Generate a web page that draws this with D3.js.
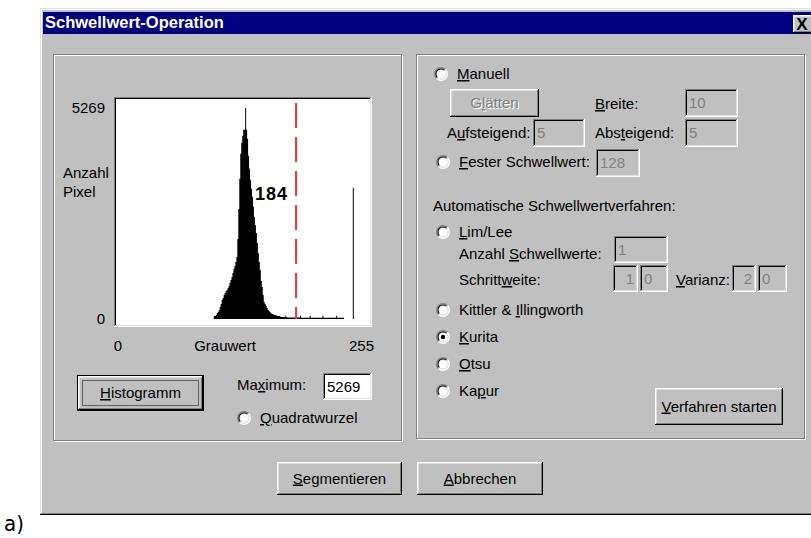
<!DOCTYPE html>
<html>
<head>
<meta charset="utf-8">
<script src="https://cdn.jsdelivr.net/npm/d3@7/dist/d3.min.js"></script>
<style>
  body { margin: 0; background: #fff; }
  svg { display: block; }
</style>
</head>
<body>
<svg id="c" width="811" height="538"></svg>
<script>
// histogram of grey values, first non-empty bin is 100
const histStart = 100;
const histCounts = [
  75, 75, 100, 150, 175, 225, 300, 375, 475, 525,            // 100-109
  600, 650, 700, 725, 775, 825, 900, 975, 1050, 1150,       // 110-119
  1250, 1325, 1425, 1550, 2000, 2750, 3500, 4125, 4400, 4575, // 120-129
  4725, 4725, 5269, 4725, 4500, 4075, 3750, 3475, 3250, 3050, // 130-139
  2800, 2550, 2350, 2150, 1900, 1650, 1425, 1225, 950, 800,  // 140-149
  600, 425, 375, 325, 275, 225, 200, 175, 150, 125,         // 150-159
  125, 100, 100, 100, 75, 75, 75, 75, 50, 50,               // 160-169
  50, 50, 50, 80, 50, 40, 40, 40, 40, 40,                   // 170-179
  40, 40, 40, 40, 40, 40, 40, 40, 80, 30,                   // 180-189
  30, 30, 30, 30, 30, 30, 30, 30, 80, 30,                   // 190-199
  30, 30, 30, 30, 30, 30, 30, 30, 30, 30,                   // 200-209
  30, 80, 30, 30, 30, 30, 30, 30, 30, 30,                   // 210-219
  30, 30, 30, 30, 30, 80, 30, 30, 30, 30,                   // 220-229
  30, 30, 30, 0, 0, 0, 0, 0, 0, 0,                          // 230-239
  0, 0, 3275, 0                                             // 240-243
];
const threshold = 184;
const maxCount = 5269;
const yTickValues = [0, 5269];
const xTickValues = [0, 255];

const manualFields = [
  { label: "Breite:", u: 0, value: "10" },
  { label: "Aufsteigend:", u: 1, value: "5" },
  { label: "Absteigend:", u: 3, value: "5" }
];
const autoMethods = [
  { label: "Kittler & Illingworth", u: 10, checked: false },
  { label: "Kurita", u: 0, checked: true },
  { label: "Otsu", u: 0, checked: false },
  { label: "Kapur", u: 2, checked: false }
];

const FONT = '"Liberation Sans", Arial, sans-serif';
const svg = d3.select("#c");

function rect(x, y, w, h, fill) {
  return svg.append("rect").attr("x", x).attr("y", y).attr("width", w).attr("height", h)
    .attr("fill", fill).attr("shape-rendering", "crispEdges");
}

// text with one underlined mnemonic letter
function label(x, y, str, u, opt) {
  opt = opt || {};
  let t = svg.append("text").attr("x", x).attr("y", y)
    .attr("font-family", FONT).attr("font-size", opt.size || 15)
    .attr("font-weight", opt.bold ? "bold" : null)
    .attr("fill", opt.fill || "#000")
    .attr("text-anchor", opt.anchor || "start");
  if (u == null || u < 0) {
    t.text(str);
  } else {
    t.append("tspan").text(str.slice(0, u));
    t.append("tspan").attr("text-decoration", "underline").text(str[u]);
    t.append("tspan").text(str.slice(u + 1));
  }
  return t;
}

function raised(x, y, w, h) {
  rect(x, y, w, h, "#c0c0c0");
  rect(x, y, w - 1, 1, "#fff");
  rect(x, y, 1, h - 1, "#fff");
  rect(x + 1, y + 1, w - 3, 1, "#dfdfdf");
  rect(x + 1, y + 1, 1, h - 3, "#dfdfdf");
  rect(x, y + h - 1, w, 1, "#000");
  rect(x + w - 1, y, 1, h, "#000");
  rect(x + 1, y + h - 2, w - 2, 1, "#808080");
  rect(x + w - 2, y + 1, 1, h - 2, "#808080");
}

function sunken(x, y, w, h, bg) {
  rect(x, y, w, h, bg || "#c0c0c0");
  rect(x, y, w - 1, 1, "#808080");
  rect(x, y, 1, h - 1, "#808080");
  rect(x + 1, y + 1, w - 3, 1, "#000");
  rect(x + 1, y + 1, 1, h - 3, "#000");
  rect(x, y + h - 1, w, 1, "#fff");
  rect(x + w - 1, y, 1, h, "#fff");
  rect(x + 1, y + h - 2, w - 2, 1, "#dfdfdf");
  rect(x + w - 2, y + 1, 1, h - 2, "#dfdfdf");
}

function field(x, y, w, h, value, opt) {
  opt = opt || {};
  sunken(x, y, w, h, opt.bg);
  svg.append("text").attr("x", opt.right ? x + w - 4 : x + 4).attr("y", y + h / 2 + 5)
    .attr("text-anchor", opt.right ? "end" : "start")
    .attr("font-family", FONT).attr("font-size", 15)
    .attr("fill", opt.bg ? "#000" : "#808080").text(value);
}

function button(x, y, w, h, str, u, opt) {
  opt = opt || {};
  if (opt.isDefault) {
    rect(x, y, w, h, "#000");
    raised(x + 1, y + 1, w - 2, h - 2);
    svg.append("rect").attr("x", x + 5.5).attr("y", y + 5.5).attr("width", w - 11).attr("height", h - 11)
      .attr("fill", "none").attr("stroke", "#000").attr("stroke-dasharray", "1,1");
  } else {
    raised(x, y, w, h);
  }
  if (opt.disabled) {
    label(x + w / 2 + 1, y + h / 2 + 6, str, u, { anchor: "middle", fill: "#fff" });
    label(x + w / 2, y + h / 2 + 5, str, u, { anchor: "middle", fill: "#808080" });
  } else {
    label(x + w / 2, y + h / 2 + 5, str, u, { anchor: "middle" });
  }
}

const arcTL = d3.arc().innerRadius(5.5).outerRadius(7).startAngle(-3 * Math.PI / 4).endAngle(Math.PI / 4);
const arcBR = d3.arc().innerRadius(5.5).outerRadius(7).startAngle(Math.PI / 4).endAngle(5 * Math.PI / 4);
const arcTLi = d3.arc().innerRadius(4.5).outerRadius(5.5).startAngle(-3 * Math.PI / 4).endAngle(Math.PI / 4);
const arcBRi = d3.arc().innerRadius(4.5).outerRadius(5.5).startAngle(Math.PI / 4).endAngle(5 * Math.PI / 4);

function radio(cx, cy, str, u, checked) {
  let g = svg.append("g").attr("transform", `translate(${cx},${cy})`);
  g.append("circle").attr("r", 5.5).attr("fill", "#fff");
  g.append("path").attr("d", arcTL()).attr("fill", "#808080");
  g.append("path").attr("d", arcBR()).attr("fill", "#fff");
  g.append("path").attr("d", arcTLi()).attr("fill", "#000");
  g.append("path").attr("d", arcBRi()).attr("fill", "#dfdfdf");
  if (checked) g.append("circle").attr("r", 2.2).attr("fill", "#000");
  label(cx + 16, cy + 5, str, u);
}

function groupBox(x, y, w, h) {
  svg.append("rect").attr("x", x + 1.5).attr("y", y + 1.5).attr("width", w).attr("height", h)
    .attr("fill", "none").attr("stroke", "#fff");
  svg.append("rect").attr("x", x + 0.5).attr("y", y + 0.5).attr("width", w).attr("height", h)
    .attr("fill", "none").attr("stroke", "#808080");
}

// ---- dialog frame ----
rect(40, 8, 771, 507, "#dfdfdf");
rect(41, 9, 770, 505, "#fff");
rect(42, 10, 769, 503, "#c0c0c0");
rect(40, 514, 771, 1, "#000");
rect(41, 513, 770, 1, "#808080");
rect(43, 12, 768, 22, "#000080");
label(45, 28, "Schwellwert-Operation", null, { bold: true, fill: "#fff", size: 16.5 });
raised(793, 15, 20, 18);
svg.append("text").attr("x", 802).attr("y", 30).attr("text-anchor", "middle")
  .attr("font-family", FONT).attr("font-weight", "bold").attr("font-size", 17).text("X");

svg.append("text").attr("x", 4).attr("y", 531).attr("font-family", '"Liberation Sans Narrow","DejaVu Sans Condensed",sans-serif')
  .attr("font-size", 22).text("a)");

groupBox(53, 54, 348, 386);
groupBox(416, 54, 388, 384);

// ---- histogram ----
const x = d3.scaleLinear().domain([0, 255]).range([116, 365.5]);
const y = d3.scaleLinear().domain([0, maxCount]).range([319, 108]);

sunken(114, 97, 258, 230, "#fff");

const hist = histCounts.map((c, i) => ({ bin: histStart + i, count: c }));
hist.push({ bin: histStart + histCounts.length, count: 0 });
const area = d3.area().curve(d3.curveStepAfter)
  .x(d => x(d.bin)).y0(y(0)).y1(d => y(d.count));
svg.append("path").datum(hist).attr("d", area).attr("fill", "#000");

svg.append("line").attr("x1", x(threshold)).attr("x2", x(threshold))
  .attr("y1", 103).attr("y2", y(0))
  .attr("stroke", "#ff3333").attr("stroke-width", 2).attr("stroke-dasharray", "25,9");
svg.append("text").attr("x", x(threshold) - 8).attr("y", 200).attr("text-anchor", "end")
  .attr("font-family", FONT).attr("font-weight", "bold").attr("font-size", 18)
  .attr("letter-spacing", 1).text(threshold);

yTickValues.forEach(v => {
  svg.append("text").attr("x", 105).attr("y", y(v) + 5).attr("text-anchor", "end")
    .attr("font-family", FONT).attr("font-size", 15).text(v);
});
xTickValues.forEach((v, i) => {
  svg.append("text").attr("x", i == 0 ? x(v) + 2 : x(v) - 4).attr("y", 351)
    .attr("text-anchor", "middle").attr("font-family", FONT).attr("font-size", 15).text(v);
});
label(225, 351, "Grauwert", null, { anchor: "middle" });
label(63, 178, "Anzahl");
label(63, 197, "Pixel");

button(77, 375, 127, 36, "Histogramm", 0, { isDefault: true });
label(237, 390, "Maximum:", 2);
field(323, 373, 49, 27, maxCount, { bg: "#fff" });
radio(244, 418, "Quadratwurzel", 0, false);

// ---- right panel ----
radio(441, 74, "Manuell", 0, false);
button(450, 89, 89, 28, "Glätten", 1, { disabled: true });
label(595, 109, manualFields[0].label, manualFields[0].u);
field(685, 89, 53, 28, manualFields[0].value);
label(447, 138, manualFields[1].label, manualFields[1].u);
field(533, 119, 52, 28, manualFields[1].value);
label(595, 138, manualFields[2].label, manualFields[2].u);
field(685, 119, 53, 28, manualFields[2].value);

radio(443, 162, "Fester Schwellwert:", 0, false);
field(596, 149, 44, 28, "128");

label(433, 211, "Automatische Schwellwertverfahren:");
radio(443, 232, "Lim/Lee", 0, false);
label(459, 259, "Anzahl Schwellwerte:", 7);
field(614, 236, 54, 27, "1");
label(459, 285, "Schrittweite:", 7);
field(613, 265, 25, 27, "1", { right: true });
field(640, 265, 28, 27, "0");
label(676, 285, "Varianz:", 0);
field(732, 265, 24, 27, "2", { right: true });
field(758, 265, 29, 27, "0");

const methodY = [310, 337, 364, 391];
autoMethods.forEach((m, i) => radio(443, methodY[i], m.label, m.u, m.checked));

button(655, 388, 128, 37, "Verfahren starten", 0);

// ---- bottom buttons ----
button(277, 462, 125, 33, "Segmentieren", 0);
button(417, 462, 126, 33, "Abbrechen", 0);
</script>
</body>
</html>
